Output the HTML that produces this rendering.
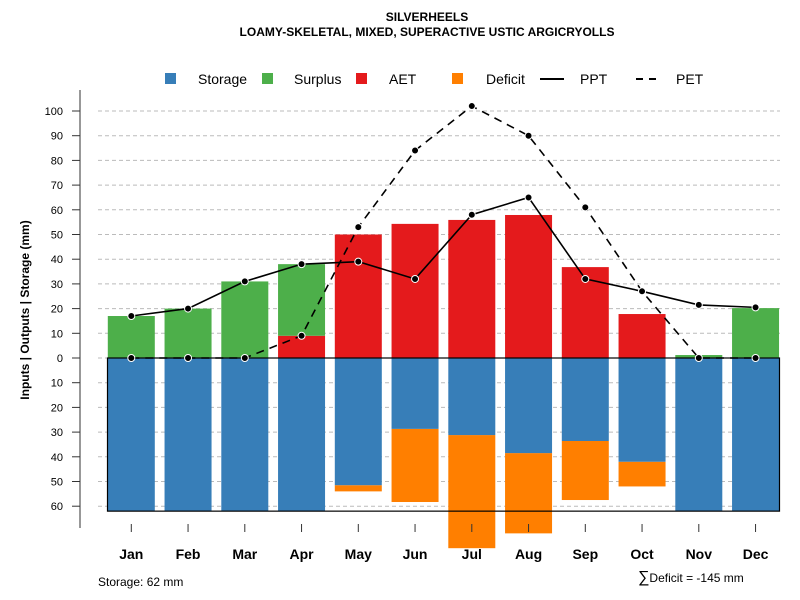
<!DOCTYPE html>
<html><head><meta charset="utf-8"><style>body{margin:0;background:#fff;overflow:hidden}svg{display:block;font-family:"Liberation Sans",sans-serif}</style></head>
<body>
<svg id="chart" width="800" height="600" viewBox="0 0 800 600">
<text x="427" y="21" text-anchor="middle" font-size="12" font-weight="bold">SILVERHEELS</text>
<text x="427" y="36" text-anchor="middle" font-size="12" font-weight="bold">LOAMY-SKELETAL, MIXED, SUPERACTIVE USTIC ARGICRYOLLS</text>
<g font-size="14">
<rect x="165" y="73" width="11" height="11" fill="#377eb8"/><text x="198" y="84">Storage</text>
<rect x="262" y="73" width="11" height="11" fill="#4daf4a"/><text x="294" y="84">Surplus</text>
<rect x="356" y="73" width="11" height="11" fill="#e41a1c"/><text x="389" y="84">AET</text>
<rect x="452" y="73" width="11" height="11" fill="#ff7f00"/><text x="486" y="84">Deficit</text>
<line x1="540" y1="79" x2="564" y2="79" stroke="#000" stroke-width="2"/><text x="580" y="84">PPT</text>
<line x1="636" y1="79" x2="662" y2="79" stroke="#000" stroke-width="2" stroke-dasharray="7,6"/><text x="676" y="84">PET</text>
</g>
<g id="grid"></g><g id="bars"></g><g id="lines"></g><g id="axes"></g>
<text x="98" y="586" font-size="12">Storage: 62 mm</text>
<text x="638" y="582" font-size="12"><tspan font-size="16">∑</tspan>Deficit = -145 mm</text>
</svg>
<script>
const months=["Jan","Feb","Mar","Apr","May","Jun","Jul","Aug","Sep","Oct","Nov","Dec"];
const storage=[62,62,62,62,51.5,28.7,31.2,38.5,33.6,42,62,62];
const deficit=[0,0,0,0,2.5,29.6,45.8,32.5,23.9,10,0,0];
const aet=[0,0,0,9,50,54.3,55.9,57.9,36.8,17.8,0,0];
const surplus=[17,20,31,29,0,0,0,0,0,0,1.2,20.2];
const ppt=[17,20,31,38,39,32,58,65,32,27,21.5,20.5];
const pet=[0,0,0,9,53,84,102,90,61,27,0,0];
const posTicks=[0,10,20,30,40,50,60,70,80,90,100];
const negTicks=[10,20,30,40,50,60];
const NS="http://www.w3.org/2000/svg";
const y=v=>358-v*2.47;
const x=i=>131.3+i*56.75;
const BW=47;
function mk(p,t,a){const e=document.createElementNS(NS,t);for(const k in a)e.setAttribute(k,a[k]);document.getElementById(p).appendChild(e);return e;}
posTicks.forEach(v=>{const g=mk('grid','line',{x1:98,x2:780,y1:y(v),y2:y(v),stroke:'#bbb','stroke-dasharray':'4,3'});

});
negTicks.forEach(v=>{const g=mk('grid','line',{x1:98,x2:780,y1:y(-v),y2:y(-v),stroke:'#bbb','stroke-dasharray':'4,3'});

});
months.forEach((m,i)=>{
 const l=x(i)-BW/2;
 let r=mk('bars','rect',{x:l,y:y(-storage[i]),width:BW,height:deficit[i]*2.47,fill:'#ff7f00'});
 
 
 r=mk('bars','rect',{x:l,y:y(0),width:BW,height:storage[i]*2.47,fill:'#377eb8'});
 
 
 r=mk('bars','rect',{x:l,y:y(aet[i]),width:BW,height:aet[i]*2.47,fill:'#e41a1c'});
 
 
 r=mk('bars','rect',{x:l,y:y(aet[i]+surplus[i]),width:BW,height:surplus[i]*2.47,fill:'#4daf4a'});
 
 
});
let box=mk('bars','rect',{x:107.5,y:358,width:672,height:62*2.47,fill:'none',stroke:'#000','stroke-width':1.2});


let pl=mk('lines','polyline',{points:pet.map((v,i)=>x(i)+','+y(v)).join(' '),fill:'none',stroke:'#000','stroke-width':1.6,'stroke-dasharray':'8,6'});


pl=mk('lines','polyline',{points:ppt.map((v,i)=>x(i)+','+y(v)).join(' '),fill:'none',stroke:'#000','stroke-width':1.6});


pet.forEach((v,i)=>{const c=mk('lines','circle',{cx:x(i),cy:y(v),r:3.5,fill:'#000',stroke:'#fff','stroke-width':1});

});
ppt.forEach((v,i)=>{const c=mk('lines','circle',{cx:x(i),cy:y(v),r:3.5,fill:'#000',stroke:'#fff','stroke-width':1});

});
let ax=mk('axes','line',{x1:80,x2:80,y1:90,y2:528,stroke:'#777','stroke-width':1.5});


posTicks.map(v=>[v,v]).concat(negTicks.map(v=>[-v,v])).forEach(([v,lab])=>{
 const t=mk('axes','line',{x1:72,x2:80,y1:y(v),y2:y(v),stroke:'#333'});
 
 
 const tx=mk('axes','text',{x:63,y:y(v)+4,'text-anchor':'end','font-size':11});
 tx.textContent=lab;
 
 
});
months.forEach((m,i)=>{
 const t=mk('axes','line',{x1:x(i),x2:x(i),y1:524,y2:532,stroke:'#333'});
 
 
 const tx=mk('axes','text',{x:x(i),y:559,'text-anchor':'middle','font-size':14,'font-weight':'bold'});
 tx.textContent=m;
 
 
});
const yt=mk('axes','text',{x:0,y:0,transform:'translate(29,310) rotate(-90)','text-anchor':'middle','font-size':12,'font-weight':'bold'});
yt.textContent='Inputs | Outputs | Storage    (mm)';
yt.setAttribute('xml:space','preserve');


</script>
</body></html>
